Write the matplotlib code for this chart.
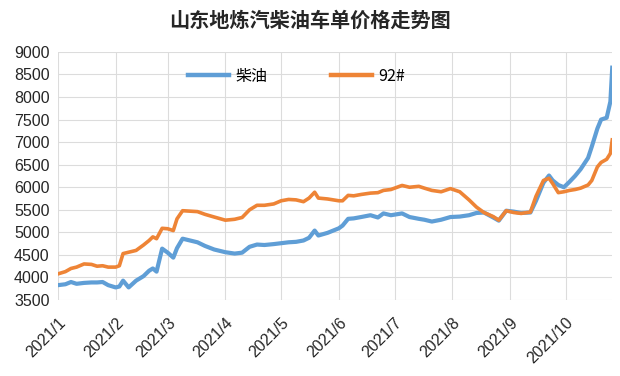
import matplotlib
matplotlib.use("Agg")
import matplotlib.pyplot as plt
import pandas as pd

plt.rcParams['font.family'] = ['Liberation Sans', 'Noto Sans CJK SC', 'DejaVu Sans']

# values (yuan/ton)
dates = [
    "2021-01-01", "2021-01-05", "2021-01-08", "2021-01-11", "2021-01-15", "2021-01-19",
    "2021-01-22", "2021-01-25", "2021-01-28", "2021-02-01", "2021-02-03", "2021-02-05",
    "2021-02-08", "2021-02-12", "2021-02-16", "2021-02-19", "2021-02-21", "2021-02-23",
    "2021-02-26", "2021-03-01", "2021-03-04", "2021-03-06", "2021-03-09", "2021-03-13",
    "2021-03-17", "2021-03-21", "2021-03-26", "2021-04-01", "2021-04-06", "2021-04-10",
    "2021-04-14", "2021-04-18", "2021-04-22", "2021-04-27", "2021-05-01", "2021-05-05",
    "2021-05-09", "2021-05-13", "2021-05-16", "2021-05-19", "2021-05-21", "2021-05-26",
    "2021-06-01", "2021-06-03", "2021-06-06", "2021-06-09", "2021-06-13", "2021-06-18",
    "2021-06-22", "2021-06-25", "2021-06-29", "2021-07-05", "2021-07-09", "2021-07-14",
    "2021-07-17", "2021-07-21", "2021-07-26", "2021-07-31", "2021-08-05", "2021-08-10",
    "2021-08-14", "2021-08-18", "2021-08-23", "2021-08-26", "2021-08-30", "2021-09-03",
    "2021-09-07", "2021-09-12", "2021-09-15", "2021-09-19", "2021-09-22", "2021-09-24",
    "2021-09-27", "2021-09-30", "2021-10-03", "2021-10-06", "2021-10-09", "2021-10-13",
    "2021-10-15", "2021-10-18", "2021-10-20", "2021-10-23", "2021-10-25", "2021-10-26",
]
diesel = [
    3830, 3850, 3900, 3860, 3880, 3890, 3890, 3900, 3830, 3780, 3800, 3930,
    3780, 3930, 4030, 4150, 4200, 4130, 4640, 4550, 4440, 4650, 4860, 4820,
    4780, 4700, 4620, 4560, 4530, 4550, 4680, 4730, 4720, 4740, 4760, 4780,
    4790, 4820, 4880, 5040, 4930, 4990, 5090, 5150, 5300, 5310, 5340, 5380,
    5330, 5420, 5380, 5420, 5340, 5300, 5280, 5240, 5280, 5340, 5350, 5380,
    5430, 5440, 5330, 5260, 5480, 5460, 5430, 5440, 5700, 6100, 6260, 6150,
    6050, 6000, 6120, 6250, 6400, 6650, 6900, 7300, 7500, 7540, 7900, 8650,
]
gasoline_92 = [
    4080, 4130, 4200, 4230, 4300, 4290, 4250, 4260, 4230, 4230, 4260, 4530,
    4560, 4600, 4720, 4820, 4900, 4860, 5090, 5080, 5040, 5300, 5480, 5470,
    5460, 5400, 5340, 5270, 5290, 5330, 5500, 5600, 5600, 5630, 5700, 5730,
    5720, 5680, 5760, 5890, 5760, 5740, 5700, 5700, 5820, 5810, 5840, 5870,
    5880, 5930, 5950, 6040, 6000, 6020, 5980, 5930, 5900, 5970, 5900, 5720,
    5560, 5440, 5350, 5270, 5480, 5440, 5420, 5450, 5800, 6150, 6200, 6080,
    5880, 5900, 5930, 5950, 5980, 6050, 6150, 6450, 6550, 6620, 6750, 7050,
]
month_ticks = [f"2021-{m:02d}-01" for m in range(1, 11)]
month_labels = [f"2021/{m}" for m in range(1, 11)]

x = pd.to_datetime(dates)

fig = plt.figure(figsize=(6.2, 3.76), dpi=100)
ax = fig.add_axes([0.0935, 0.202, 0.894, 0.66])

ax.plot(x, diesel, color='#5F9ED6', linewidth=3.0, label='柴油', solid_joinstyle='round')
ax.plot(x, gasoline_92, color='#EE8436', linewidth=2.6, label='92#', solid_joinstyle='round')

ax.set_ylim(3500, 9000)
ax.set_yticks(range(3500, 9001, 500))
ax.set_xlim(pd.Timestamp("2021-01-01"), pd.Timestamp("2021-10-26"))
ax.set_xticks(pd.to_datetime(month_ticks))
ax.set_xticklabels(month_labels, rotation=45, ha='right', rotation_mode='anchor')

ax.grid(True, color='#dcdcdc', linewidth=0.8)
ax.set_axisbelow(True)
for s in ax.spines.values():
    s.set_visible(False)
ax.tick_params(length=0, labelsize=11.5, colors='#262626')
ax.tick_params(axis='x', pad=11)
ax.tick_params(axis='y', pad=6)

fig.suptitle('山东地炼汽柴油车单价格走势图', x=0.5, y=0.975, fontsize=14.5,
             fontweight='bold', family=['Noto Sans CJK SC'], color='#262626')

leg = ax.legend(loc='upper center', bbox_to_anchor=(0.43, 0.995), ncol=2, frameon=False,
                prop={'family': ['Noto Sans CJK SC', 'DejaVu Sans'], 'size': 11.5},
                columnspacing=4.0, handlelength=2.6, handletextpad=0.35)
for line in leg.get_lines():
    line.set_linewidth(3.2)

fig.savefig('out.png', dpi=100)
